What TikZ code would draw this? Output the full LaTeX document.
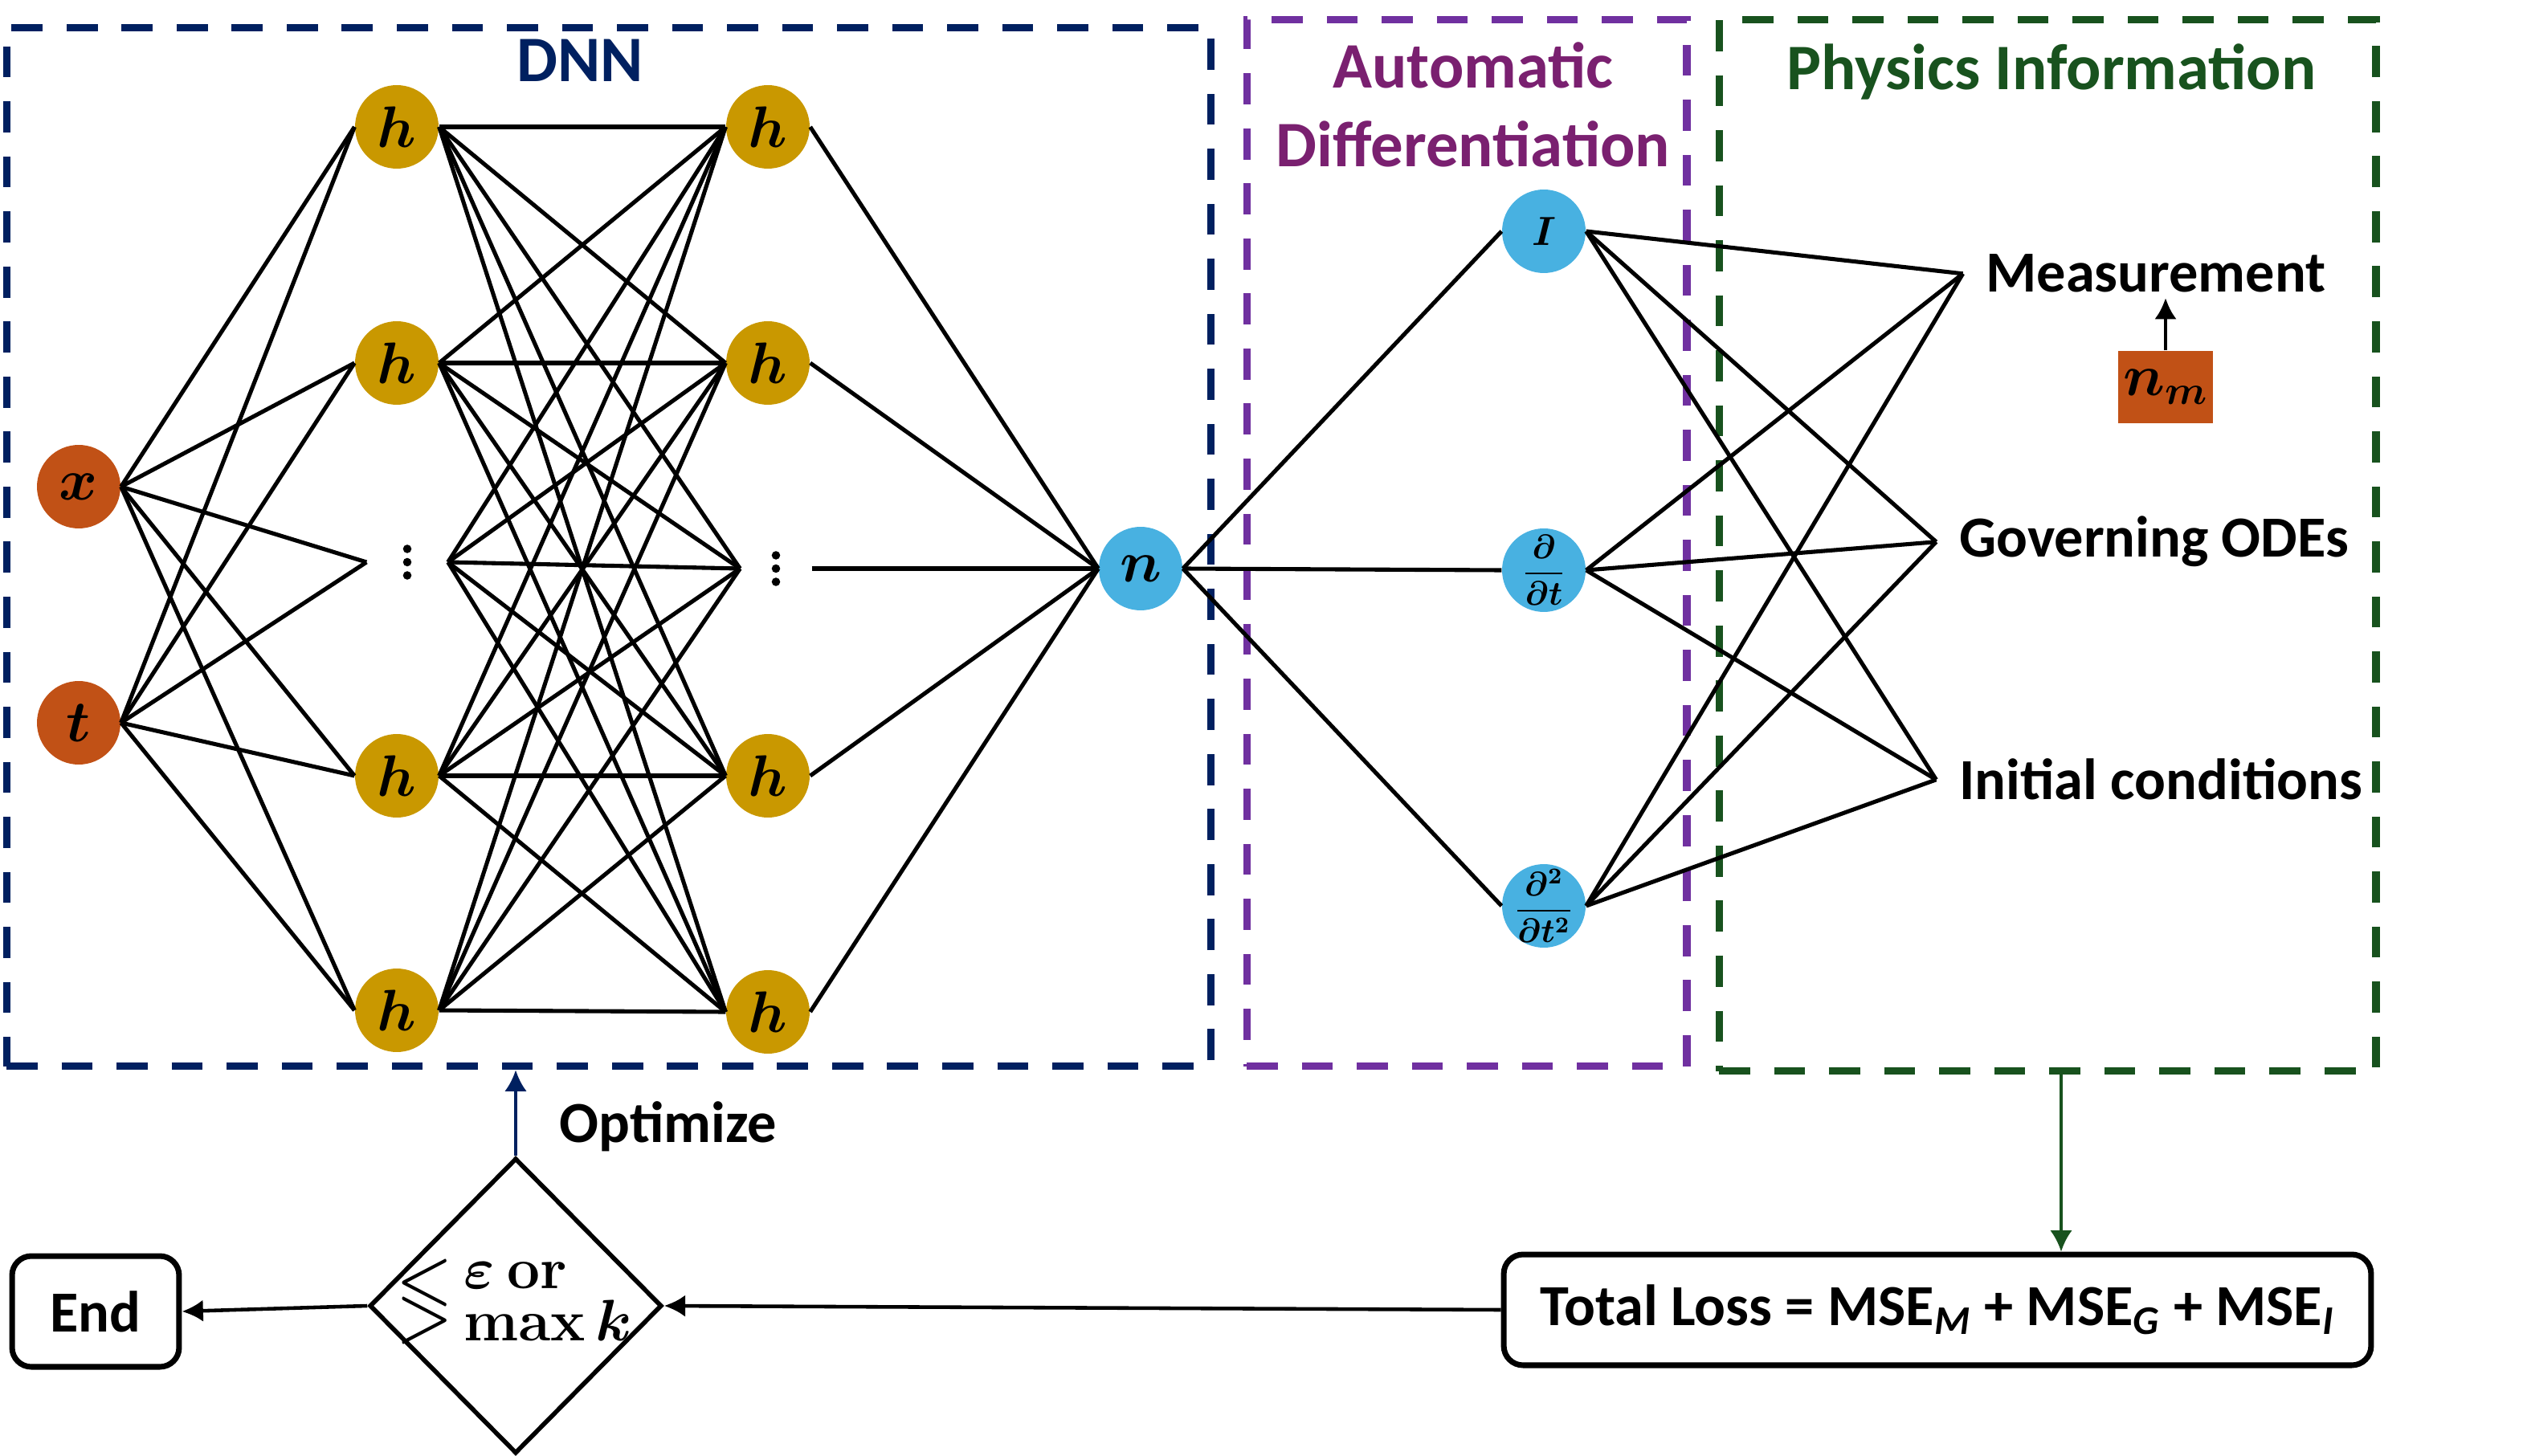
\documentclass[tikz,border=0pt]{standalone}
\usepackage{amsmath,amssymb}
\usepackage{bm}
\usepackage{graphicx}
\usepackage[no-math]{fontspec}
\setmainfont{Carlito}
\usetikzlibrary{shapes.geometric,arrows.meta}

\definecolor{dnnblue}{RGB}{0,32,96}
\definecolor{adpurple}{RGB}{112,48,160}
\definecolor{adtext}{RGB}{122,32,112}
\definecolor{pigreen}{RGB}{24,82,30}
\definecolor{inorange}{RGB}{193,81,22}
\definecolor{hgold}{RGB}{201,152,0}
\definecolor{outblue}{RGB}{72,177,225}

\tikzset{
	neuron/.style={circle, minimum size=1.04cm, inner sep=0pt, font=\fontsize{20.5}{24}\selectfont},
	hnode/.style={neuron, fill=hgold},
	innode/.style={neuron, fill=inorange},
	outnode/.style={neuron, fill=outblue},
	dotnode/.style={circle, minimum size=1.0cm, inner sep=0pt},
	link/.style={line width=1.45pt},
	regionbox/.style={dashed, line width=2.6pt, dash pattern=on 11pt off 8.5pt, inner sep=0pt},
	boxtitle/.style={font=\bfseries\fontsize{23}{26}\selectfont},
	pilabel/.style={font=\bfseries\fontsize{20.6}{24}\selectfont, inner sep=8pt},
	stepbox/.style={draw, rounded corners=0.24cm, line width=2pt, minimum height=1.38cm, inner sep=0pt, font=\bfseries\fontsize{20.6}{24}\selectfont},
	flowarrow/.style={line width=1.3pt, -{Latex[length=7.5pt,width=7.8pt]}}
}

\begin{document}
\begin{tikzpicture}[x=0.02cm,y=-0.02cm]
	\useasboundingbox (0,0) rectangle (1570.5,906.5);

	\node[regionbox, draw=dnnblue, minimum width=15cm, minimum height=12.94cm] (dnnbox) at (379,340.5) {};
	\node[regionbox, draw=adpurple, minimum width=5.48cm, minimum height=13.04cm] (adbox) at (913,338) {};
	\node[regionbox, draw=pigreen, minimum width=8.18cm, minimum height=13.1cm] (pibox) at (1274.5,339.5) {};

	\node[boxtitle, text=dnnblue, anchor=base] (dnntitle) at (361,51) {DNN};
	\node[boxtitle, text=adtext, anchor=base] (adtitle) at (917,55) {Automatic};
	\node[boxtitle, text=adtext, anchor=base] (adtitle2) at (917,104) {Differentiation};
	\node[boxtitle, text=pigreen, anchor=base] (pititle) at (1277,56) {Physics Information};

	\node[innode] (x) at (49,303) {$\bm{x}$};
	\node[innode] (t) at (49,450) {$\bm{t}$};

	\foreach \i/\yy in {1/79,2/226,4/483,5/629}
		\node[hnode] (a\i) at (247,\yy) {$\bm{h}$};
	\node[dotnode] (a3) at (253.5,350) {};

	\foreach \i/\yy in {1/79,2/226,4/483,5/630}
		\node[hnode] (b\i) at (478,\yy) {$\bm{h}$};
	\node[dotnode, minimum size=0.88cm] (b3) at (483,354) {};

	\foreach \k in {a3,b3}
	\foreach \dy in {-4.7pt,0pt,4.7pt}
	{
		\fill ([yshift=\dy]\k.center) circle (1.5pt);
	}

	\node[outnode] (n) at (710,354) {$\bm{n}$};

	\node[outnode, font=\fontsize{15}{18}\selectfont] (d0) at (961,144) {$\bm{I}$};
	\node[outnode, inner sep=-3pt, font=\fontsize{11.5}{13}\selectfont] (d1) at (961,355) {$\displaystyle\frac{\bm{\partial}}{\bm{\partial t}}$};
	\node[outnode, inner sep=-4pt, font=\fontsize{11.5}{13}\selectfont] (d2) at (961,564) {$\displaystyle\frac{\bm{\partial}^{\bm{2}}}{\bm{\partial t}^{\bm{2}}}$};

	\node[pilabel, anchor=base] (meas) at (1342,182) {Measurement};
	\node[pilabel, anchor=base] (gov) at (1341,347) {Governing ODEs};
	\node[pilabel, anchor=base] (init) at (1345,498) {Initial conditions};

	\node[fill=inorange, minimum width=1.18cm, minimum height=0.9cm, inner sep=0pt, font=\fontsize{21}{24}\selectfont] (nm) at (1348,241) {$\bm{n_m}$};

	\foreach \i in {1,...,5}
	{
		\draw[link] (x.east) -- (a\i.west);
		\draw[link] (t.east) -- (a\i.west);
	}
	\foreach \i in {1,...,5}
	\foreach \j in {1,...,5}
	{
		\draw[link] (a\i.east) -- (b\j.west);
	}
	\foreach \j in {1,...,5}
		\draw[link] (b\j.east) -- (n.west);
	\foreach \k in {0,1,2}
	{
		\draw[link] (n.east) -- (d\k.west);
		\foreach \p in {meas,gov,init}
			\draw[link] (d\k.east) -- (\p.west);
	}

	\draw[flowarrow, shorten >=2pt] (nm.north) -- (nm.north |- meas.base);

	\node[stepbox, minimum width=10.8cm] (loss) at (1206,815.5) {Total Loss = MSE\textsubscript{\textit{M}} + MSE\textsubscript{\textit{G}} + MSE\textsubscript{\textit{I}}};
	\node[draw, diamond, line width=1.6pt, minimum width=3.64cm, minimum height=3.68cm, inner sep=0pt, font=\fontsize{20}{22}\selectfont] (check) at (321,813) {\makebox[2cm][c]{\scalebox{0.95}[1.35]{\fontsize{24}{26}\selectfont$\lessgtr$}\hspace{5pt}$\renewcommand{\arraystretch}{0.6}\begin{array}{@{}l@{}}\bm{\varepsilon}\ \mathbf{or}\\ \mathbf{max}\,\bm{k}\end{array}$}};
	\node[stepbox, minimum width=2.08cm] (endbox) at (59.5,816.5) {End};
	\node[pilabel, anchor=base] (opt) at (416,711) {Optimize};

	\draw[flowarrow, line width=1.1pt, pigreen] ([xshift=0.17cm]pibox.south) -- ([xshift=0.17cm]pibox.south |- loss.north);
	\draw[flowarrow] (loss.west) -- (check.east);
	\draw[flowarrow] (check.west) -- (endbox.east);
	\draw[flowarrow, line width=1.1pt, dnnblue] (check.north) -- (check.north |- dnnbox.south);
\end{tikzpicture}
\end{document}
